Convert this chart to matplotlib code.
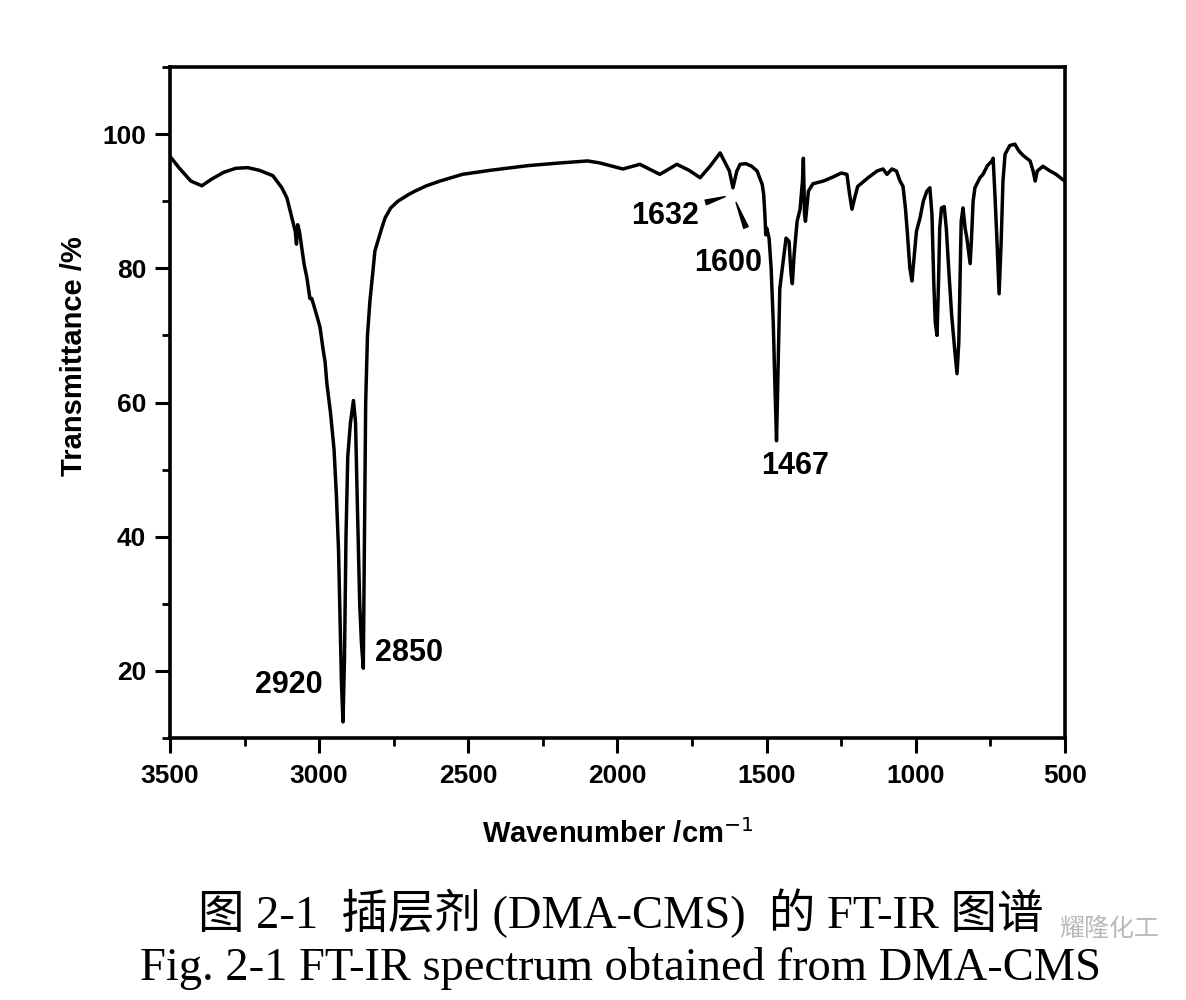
import numpy as np
import matplotlib
matplotlib.use("Agg")
import matplotlib.pyplot as plt
from matplotlib.ticker import MultipleLocator

# spectrum: wavenumber (cm-1) and transmittance (%)
wavenumber = [3500, 3470, 3430, 3393, 3360, 3320, 3280, 3239, 3200, 3155, 3125, 3108,
              3091, 3080, 3076, 3072, 3066, 3050, 3041, 3031, 3025, 3018, 3005, 2997,
              2987, 2980, 2974, 2962, 2950, 2942, 2935, 2930, 2925, 2920, 2915, 2910,
              2904, 2895, 2885, 2878, 2872, 2864, 2858, 2852, 2848, 2844, 2838, 2830,
              2813, 2790, 2779, 2760, 2736, 2700, 2679, 2640, 2595, 2520, 2427, 2300,
              2193, 2100, 2059, 1982, 1925, 1858, 1801, 1760, 1723, 1690, 1656, 1640,
              1625, 1613, 1600, 1589, 1570, 1550, 1532, 1515, 1510, 1506, 1503, 1500,
              1492, 1485, 1478, 1472, 1467, 1462, 1456, 1445, 1435, 1425, 1418, 1414,
              1408, 1398, 1388, 1380, 1377, 1373, 1370, 1360, 1345, 1310, 1278, 1250,
              1231, 1222, 1214, 1205, 1195, 1160, 1130, 1110, 1097, 1080, 1065, 1053,
              1043, 1035, 1028, 1020, 1013, 1007, 998, 986, 975, 963, 953, 946,
              940, 935, 929, 924, 920, 914, 905, 898, 890, 880, 870, 862,
              856, 852, 848, 842, 835, 829, 822, 818, 814, 808, 802, 785,
              775, 760, 745, 741, 735, 728, 721, 714, 708, 701, 685, 668,
              655, 640, 617, 607, 600, 593, 574, 550, 530, 510, 500]
transmittance = [96.7, 95.0, 93.0, 92.3, 93.3, 94.3, 94.9, 95.0, 94.6, 93.8, 92.0, 90.5,
                 87.5, 85.5, 83.6, 86.5, 85.5, 80.5, 78.6, 75.5, 75.5, 74.5, 72.5, 71.2,
                 68.0, 66.0, 62.8, 58.5, 53.0, 46.0, 38.0, 28.0, 18.0, 12.4, 22.0, 40.0,
                 52.0, 57.0, 60.3, 57.0, 45.0, 30.0, 24.0, 20.4, 40.0, 60.0, 70.0, 75.0,
                 82.6, 86.0, 87.5, 89.0, 90.0, 91.0, 91.5, 92.3, 93.0, 94.0, 94.6, 95.3,
                 95.7, 96.0, 95.7, 94.8, 95.5, 94.0, 95.5, 94.6, 93.5, 95.2, 97.2, 95.8,
                 94.5, 92.0, 94.5, 95.5, 95.6, 95.2, 94.5, 92.5, 91.0, 88.0, 85.0, 86.0,
                 84.5, 80.0, 72.0, 62.0, 54.3, 64.8, 77.0, 81.0, 84.5, 84.0, 79.0, 77.7,
                 82.0, 87.0, 88.8, 93.0, 96.4, 88.0, 87.0, 91.5, 92.6, 93.0, 93.6, 94.2,
                 94.0, 91.0, 88.8, 90.5, 92.2, 93.5, 94.5, 94.8, 94.0, 94.8, 94.5, 93.0,
                 92.2, 89.0, 85.0, 80.0, 78.1, 81.0, 85.5, 87.5, 90.0, 91.5, 92.0, 88.0,
                 78.0, 72.0, 70.0, 78.0, 86.0, 89.0, 89.2, 86.0, 80.0, 73.0, 68.0, 64.3,
                 69.0, 78.0, 87.0, 89.0, 86.0, 84.5, 82.0, 80.7, 84.0, 90.0, 92.0, 93.5,
                 94.0, 95.3, 96.0, 96.4, 91.0, 84.0, 76.2, 84.0, 93.0, 97.0, 98.3, 98.5,
                 97.5, 96.8, 96.0, 94.5, 93.0, 94.5, 95.2, 94.5, 94.0, 93.3, 93.0]

# peak labels and where their text sits
peak_labels = ["2920", "2850", "1632", "1600", "1467"]
label_x = [3101, 2699, 1841, 1630, 1405]
label_y = [17.9, 22.7, 87.8, 80.8, 50.6]

sans = ["Liberation Sans Narrow", "Liberation Sans", "DejaVu Sans"]
serif = ["Liberation Serif", "Noto Sans CJK SC", "DejaVu Sans"]

fig = plt.figure(figsize=(11.86, 10), dpi=100)
ax = fig.add_axes([0.1433, 0.262, 0.7547, 0.671])

ax.plot(wavenumber, transmittance, color="black", lw=2.5, solid_joinstyle="round")

ax.set_xlim(3500, 500)
ax.set_ylim(10, 110)
ax.xaxis.set_major_locator(MultipleLocator(500))
ax.xaxis.set_minor_locator(MultipleLocator(250))
ax.set_yticks([20, 40, 60, 80, 100])
ax.yaxis.set_minor_locator(MultipleLocator(10))
ax.tick_params(which="major", direction="out", length=11, width=2.2)
ax.tick_params(axis="x", which="major", pad=8)
ax.tick_params(axis="y", which="major", pad=6)
ax.tick_params(which="minor", direction="out", length=6, width=2)
for lab in ax.get_xticklabels() + ax.get_yticklabels():
    lab.set_family(sans)
    lab.set_fontsize(19)
    lab.set_fontweight("bold")
for s in ax.spines.values():
    s.set_linewidth(2.6)

ax.set_xlabel("Wavenumber /cm$^{-1}$", family=sans, fontsize=21, fontweight="bold", labelpad=22)
ax.set_ylabel("Transmittance /%", family=sans, fontsize=21, fontweight="bold")
ax.yaxis.set_label_coords(-0.092, 0.569)

for txt, x, y in zip(peak_labels, label_x, label_y):
    ax.text(x, y, txt, family=["Liberation Sans", "DejaVu Sans"], fontsize=22,
            fontweight="bold", ha="center", va="center")

# little wedge arrows for the weak bands
ax.annotate("", xy=(1630, 90.8), xytext=(1713, 89.7),
            arrowprops=dict(arrowstyle="wedge,tail_width=0.35,shrink_factor=0.5", color="black"))
ax.annotate("", xy=(1606, 90.2), xytext=(1566, 85.7),
            arrowprops=dict(arrowstyle="wedge,tail_width=0.35,shrink_factor=0.5", color="black"))

fig.text(0.523, 0.087, "图 2-1  插层剂 (DMA-CMS)  的 FT-IR 图谱", family=serif,
         fontsize=33.5, ha="center", va="center")
fig.text(0.523, 0.032, "Fig. 2-1 FT-IR spectrum obtained from DMA-CMS", family=serif,
         fontsize=33.5, ha="center", va="center")
# faint watermark
fig.text(0.935, 0.071, "耀隆化工", family=["Noto Sans CJK SC"], fontsize=18,
         color="#a8a8a8", ha="center", va="center", alpha=0.8)

fig.savefig("out.png", dpi=100)
